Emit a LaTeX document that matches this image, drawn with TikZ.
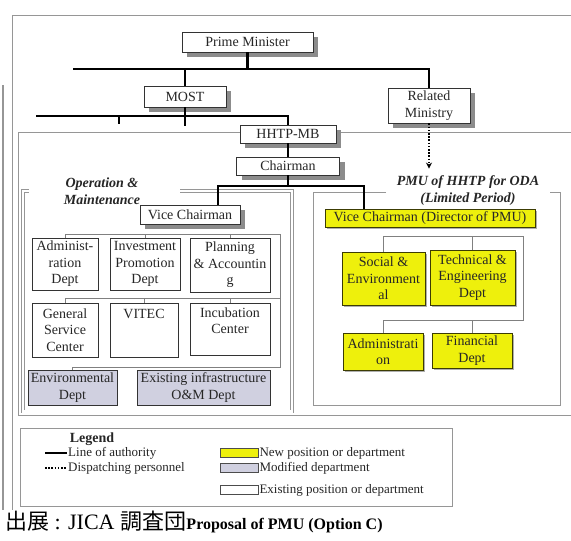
\documentclass[tikz,border=0pt]{standalone}
\usepackage{fontspec}
\setmainfont{Liberation Serif}
\newfontfamily\cjk{Noto Sans CJK JP}
\usetikzlibrary{positioning, arrows.meta}
\definecolor{newpos}{RGB}{238,240,12}
\definecolor{modpos}{RGB}{208,208,224}
\definecolor{framegray}{RGB}{150,150,150}
\definecolor{boxshadow}{RGB}{140,140,140}

\begin{document}
\begin{tikzpicture}[x=1pt, y=-1pt,
    box/.style={draw=black!80, fill=white, line width=0.7pt, align=center,
        inner sep=1pt, text=black!85, font=\fontsize{14}{16.5}\selectfont},
    newbox/.style={box, fill=newpos, draw=black!75!newpos},
    modbox/.style={box, fill=modpos},
    authority/.style={line width=2.4pt, black},
    dispatch/.style={line width=2pt, black, dash pattern=on 1.6pt off 1.6pt},
    bus/.style={draw=black!50, line width=0.7pt},
    frame/.style={draw=framegray, line width=0.7pt},
    title/.style={font=\fontsize{14}{17}\selectfont\bfseries\itshape, align=center, text=black!85},
    legtext/.style={font=\fontsize{13}{15}\selectfont, anchor=west, inner sep=1pt, text=black!85},
    swatch/.style={draw=black!70, line width=0.6pt, minimum width=38pt, minimum height=9pt, inner sep=0pt},
]
\useasboundingbox (0,0) rectangle (571,541);
\fill[white] (0,0) rectangle (571,541);

% Page and frames
\draw[frame] (571,15) -- (12,15) -- (12,510);
\draw[framegray, line width=2pt] (3,85) -- (3,510);
\draw[frame] (571,132) -- (18,132) -- (18,415) -- (571,415);
\draw[frame, double, double distance=2.5pt] (180,191) -- (292,191) -- (292,411.5) -- (23,411.5) -- (23,191) -- (29,191);
\draw[frame] (386,192) -- (313,192) -- (313,405) -- (560,405) -- (560,192) -- (550,192);

% Shadows behind the boxes
\foreach \xa/\ya/\xb/\yb in {187/37/318/57, 149/91/231/112, 393/93/475/128,
        245/130/341/148, 241.5/162/344.5/180, 145/210/245/229}
    \fill[fill=boxshadow] (\xa,\ya) rectangle (\xb,\yb);
\foreach \xa/\ya/\xb/\yb in {327/211/537/229, 344/254/427/307, 432/252/517/307,
        345/335/425/372, 434/335/514/370}
    \fill[fill=boxshadow!70] (\xa,\ya) rectangle (\xb,\yb);

% Top of the hierarchy
\node[box, minimum width=131pt, minimum height=20pt] (pm) at (247.5,42) {Prime Minister};
\node[box, minimum width=82pt, minimum height=21pt] (most) at (185,96.5) {MOST};
\node[box, minimum width=82pt, minimum height=35pt] (rel) at (429,105.5) {Related\\Ministry};
\node[box, minimum width=96pt, minimum height=18pt] (hhtp) at (288,134) {HHTP-MB};
\node[box, minimum width=103pt, minimum height=18pt] (chair) at (288,166) {Chairman};

\coordinate (topL) at (73,69);
\draw[authority] (pm.south) -- (pm.south |- topL);
\draw[authority] (topL) -| (rel.north);
\draw[authority] (most.north) -- (most.north |- topL);
\coordinate (mostL) at (36,116);
\coordinate (mostTick) at (119,124);
\draw[authority] (mostL) -| (hhtp.north);
\draw[authority] (most.south) -- ++(0,19);
\draw[authority] (mostTick |- mostL) -- (mostTick);
\draw[authority] (hhtp.south) -- (chair.north);

% Titles of the two parts
\node[title] (omTitle) at (102,191) {Operation \&\\Maintenance};
\node[title] (pmu) at (468,191) {PMU of HHTP for ODA\\(Limited Period)};
\draw[dispatch, -{Stealth[length=6pt, width=6pt]}] (rel.south) -- ([yshift=4pt]rel.south |- pmu.north);

% Vice chairmen
\node[box, minimum width=100pt, minimum height=19pt] (vcL) at (190,214.5) {Vice Chairman};
\node[newbox, minimum width=210pt, minimum height=18pt] (vcR) at (430,218) {Vice Chairman (Director of PMU)};
\coordinate (split) at (288,186);
\draw[authority] (chair.south) -- (split);
\draw[authority] ([xshift=28pt]vcL.north) |- (split) -| ([xshift=-66pt]vcR.north);

% Operation & Maintenance departments
\node[box, minimum width=66pt, minimum height=52pt] (admin) at (65,264) {Administ-\\ration\\Dept};
\node[box, minimum width=70pt, minimum height=52pt] (invest) at (145,264) {Investment\\Promotion\\Dept};
\node[box, minimum width=80pt, minimum height=54pt] (plan) at (230,265) {Planning\\\& Accountin\\g};
\node[box, minimum width=66pt, minimum height=54pt] (gserv) at (65,330) {General\\Service\\Center};
\node[box, minimum width=68pt, minimum height=54pt] (vitec) at (144,330) {VITEC\\~\\~};
\node[box, minimum width=80pt, minimum height=52pt] (incub) at (230,329) {Incubation\\Center\\~};
\node[modbox, minimum width=89pt, minimum height=35pt] (env) at (72.5,387.5) {Environmental\\Dept};
\node[modbox, minimum width=133pt, minimum height=35pt] (exist) at (203.5,387.5) {Existing infrastructure\\O\&M Dept};

\coordinate (omBus) at (280,234);
\coordinate (omMid) at (280,298);
\coordinate (omEnd) at (280,367);
\draw[bus] (admin.north) -- (admin.north |- omBus) -- (omBus) -- (omEnd) -- (env.north |- omEnd) -- (env.north);
\draw[bus] (gserv.north) -- (gserv.north |- omMid) -- (omMid);
\foreach \b in {invest, plan}
    \draw[bus] (\b.north) -- (\b.north |- omBus);
\foreach \b in {vitec, incub}
    \draw[bus] (\b.north) -- (\b.north |- omMid);

% PMU departments
\node[newbox, minimum width=83pt, minimum height=53pt] (soc) at (383.5,278.5) {Social \&\\Environment\\al};
\node[newbox, minimum width=85pt, minimum height=55pt] (tech) at (472.5,277.5) {Technical \&\\Engineering\\Dept};
\node[newbox, minimum width=80pt, minimum height=37pt] (adm2) at (383,351.5) {Administrati\\on};
\node[newbox, minimum width=80pt, minimum height=35pt] (fin) at (472,350.5) {Financial\\Dept};

\coordinate (pmuBus) at (523,236);
\coordinate (pmuEnd) at (523,320);
\draw[bus] (soc.north) -- (soc.north |- pmuBus) -- (pmuBus) -- (pmuEnd) -- (adm2.north |- pmuEnd) -- (adm2.north);
\draw[bus] (tech.north) -- (tech.north |- pmuBus);
\draw[bus] (fin.north) -- (fin.north |- pmuEnd);

% Legend
\draw[frame] (20,428) rectangle (452,506);
\node[font=\fontsize{14}{16}\selectfont\bfseries, text=black!85] (legTitle) at (92,439) {Legend};
\coordinate (authA) at (45,453);
\coordinate (authB) at (67,453);
\draw[authority, line width=2pt] (authA) -- (authB);
\node[legtext] (authTxt) at (authB) {Line of authority};
\coordinate (dispA) at (45,468);
\coordinate (dispB) at (67,468);
\draw[dispatch, line width=1.6pt] (dispA) -- (dispB);
\node[legtext] (dispTxt) at (dispB) {Dispatching personnel};
\node[swatch, fill=newpos] (swNew) at (239,453) {};
\node[swatch, fill=modpos] (swMod) at (239,468) {};
\node[swatch, fill=white] (swOld) at (239,490) {};
\node[legtext] (newTxt) at (swNew.east) {New position or department};
\node[legtext] (modTxt) at (swMod.east) {Modified department};
\node[legtext] (oldTxt) at (swOld.east) {Existing position or department};

% Caption
\node[anchor=base west, inner sep=0pt, font=\fontsize{22}{22}\selectfont] (src) at (5,529) {{\cjk 出展} : JICA {\cjk 調査団}};
\node[anchor=base west, inner sep=0pt, font=\fontsize{16}{16}\selectfont\bfseries] (cap) at (src.base east) {Proposal of PMU (Option C)};
\end{tikzpicture}
\end{document}
